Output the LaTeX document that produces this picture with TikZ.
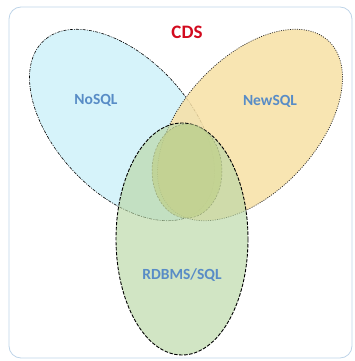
\documentclass[tikz,border=0pt]{standalone}
\usepackage{fontspec}
\setmainfont{Carlito}
\definecolor{framec}{RGB}{190,212,232}
\definecolor{nosqlc}{RGB}{214,243,250}
\definecolor{newsqlc}{RGB}{247,224,165}
\definecolor{rdbmsc}{RGB}{185,215,165}
\definecolor{innerc}{RGB}{192,208,140}
\definecolor{innerline}{RGB}{150,165,120}
\definecolor{labelc}{RGB}{88,140,198}
\definecolor{cdsc}{RGB}{210,10,30}
\tikzset{
  setlabel/.style={font=\fontsize{15.5}{15.5}\selectfont\bfseries, text=labelc, inner sep=0pt},
  nosqlshape/.style={fill=nosqlc, draw=black, line width=0.6pt, dash pattern=on 3pt off 1.2pt on 1pt off 1.2pt},
  newsqlshape/.style={fill=newsqlc, fill opacity=0.85, draw=black!85, line width=0.7pt, dash pattern=on 1pt off 1.3pt},
  rdbmsshape/.style={fill=rdbmsc, fill opacity=0.65, draw=black, line width=0.9pt, dash pattern=on 3.5pt off 1.5pt},
  innershape/.style={fill=innerc, fill opacity=0.75, draw=innerline, line width=0.5pt, dash pattern=on 2pt off 1.5pt}
}
\begin{document}
\begin{tikzpicture}[x=1pt,y=-1pt]
\useasboundingbox (0,0) rectangle (355,361);
\draw[framec, line width=0.8pt, rounded corners=12pt] (9,7) rectangle (352,358);
\draw[nosqlshape, rotate around={-47:(122,125)}] (122,125) ellipse [x radius=115, y radius=67];
\draw[newsqlshape, rotate around={47:(250,125)}] (250,125) ellipse [x radius=115, y radius=67];
\draw[rdbmsshape] (182,239) ellipse [x radius=66, y radius=116];
\draw[innershape] (187,171) ellipse [x radius=35, y radius=47];
\node[font=\fontsize{19}{19}\selectfont\bfseries, text=cdsc, inner sep=0pt] (cds) at (187,32) {CDS};
\node[setlabel] (nosql) at (96,100) {NoSQL};
\node[setlabel] (newsql) at (270,101) {NewSQL};
\node[setlabel] (rdbms) at (182,275) {RDBMS/SQL};
\end{tikzpicture}
\end{document}
